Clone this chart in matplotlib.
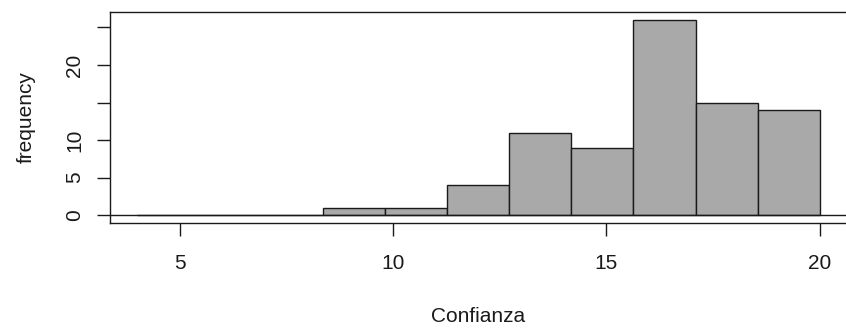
import matplotlib
matplotlib.use("Agg")
import matplotlib.pyplot as plt

# breaks del histograma (11 clases de 4 a 20) y frecuencias
breaks = [4, 5.4545, 6.9091, 8.3636, 9.8182, 11.2727, 12.7273, 14.1818, 15.6364, 17.0909, 18.5455, 20]
counts = [0, 0, 0, 1, 1, 4, 11, 9, 26, 15, 14]
xticks = [5, 10, 15, 20]
yticks = [0, 5, 10, 15, 20, 25]
ylabels = ["0", "5", "10", "", "20", ""]   # R se salta 15 y 25 por solapamiento

def plotHist(breaks, counts):
    plt.rcParams['font.family'] = ['Liberation Sans', 'DejaVu Sans']
    fig = plt.figure(figsize=(8.46, 3.29), dpi=100)
    ax = fig.add_axes([0.130, 0.322, 0.871, 0.6415])
    lefts = breaks[:-1]
    widths = [breaks[i+1]-breaks[i] for i in range(len(counts))]
    ax.bar(lefts, counts, width=widths, align='edge', color='#a9a9a9',
           edgecolor='#1a1a1a', linewidth=1.0, zorder=2)
    ax.axhline(0, color='#1a1a1a', linewidth=1.0, zorder=3)
    ax.set_xlim(3.36, 20.64)
    ax.set_ylim(-1.04, 27.04)
    ax.set_xticks(xticks)
    ax.set_xticklabels([str(i) for i in xticks])
    ax.set_yticks(yticks)
    ax.set_yticklabels(ylabels, rotation=90, va='center')
    ax.tick_params(axis='both', direction='out', length=9.5, width=1.0,
                   labelsize=15, colors='#1a1a1a')
    ax.tick_params(axis='x', pad=12.5)
    ax.tick_params(axis='y', pad=9)
    for s in ax.spines.values():
        s.set_linewidth(1.0)
        s.set_color('#1a1a1a')
    # etiquetas de ejes como en R (posicion fija)
    fig.text(478/846, 1-322/329, "Confianza", fontsize=15, ha='center',
             va='baseline', color='#1a1a1a')
    fig.text(32/846, 1-117.5/329, "frequency", fontsize=15, ha='center',
             va='baseline', rotation=90, rotation_mode='anchor', color='#1a1a1a')
    fig.savefig("out.png", dpi=100)

if __name__ == "__main__":
    plotHist(breaks, counts)
